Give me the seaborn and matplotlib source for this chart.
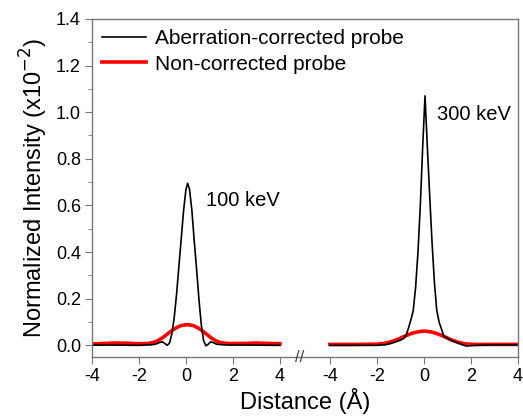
import numpy as np
import pandas as pd
import matplotlib
matplotlib.use('Agg')
import matplotlib.pyplot as plt
import seaborn as sns

# values (distance in Angstrom, intensity x1e-2)
dist_ac_100 = [-4, -3, -2, -1.6, -1.5, -1.3, -1.1, -1.0, -0.9, -0.8, -0.7, -0.6, -0.5, -0.4, -0.3,
               -0.2, -0.1, 0.0, 0.07, 0.15, 0.25, 0.35, 0.45, 0.55, 0.65, 0.75, 0.85, 0.95,
               1.05, 1.15, 1.3, 1.6, 2, 3, 4]
int_ac_100 = [0.001, 0.001, 0.0, 0.002, 0.002, 0.005, 0.013, 0.015, 0.008, 0.0, 0.01, 0.05, 0.12,
              0.22, 0.34, 0.46, 0.58, 0.67, 0.695, 0.67, 0.58, 0.45, 0.33, 0.2, 0.09, 0.02,
              -0.002, 0.005, 0.015, 0.012, 0.005, 0.002, 0.001, 0.001, 0.0]

dist_nc_100 = [-4, -3.5, -3, -2.5, -2, -1.6, -1.4, -1.2, -1.0, -0.8, -0.6, -0.4, -0.2, 0.05, 0.3,
               0.5, 0.7, 0.9, 1.1, 1.3, 1.5, 1.8, 2.5, 3, 3.5, 4]
int_nc_100 = [0.006, 0.008, 0.01, 0.009, 0.007, 0.008, 0.012, 0.02, 0.032, 0.048, 0.063, 0.076,
              0.085, 0.089, 0.085, 0.076, 0.062, 0.046, 0.03, 0.018, 0.011, 0.008, 0.008, 0.01,
              0.008, 0.007]

dist_ac_300 = [-4, -3, -2, -1.6, -1.4, -1.2, -1.0, -0.85, -0.75, -0.65, -0.55, -0.45, -0.35, -0.25,
               -0.15, -0.05, 0.05, 0.15, 0.25, 0.35, 0.45, 0.55, 0.65, 0.75, 0.85, 1.0, 1.2,
               1.4, 1.6, 1.8, 2.2, 3, 4]
int_ac_300 = [0.0, 0.0, 0.0, 0.003, 0.008, 0.015, 0.022, 0.03, 0.045, 0.075, 0.11, 0.15, 0.25,
              0.40, 0.60, 0.85, 1.07, 0.85, 0.64, 0.44, 0.27, 0.15, 0.1, 0.07, 0.04, 0.03, 0.02,
              0.012, 0.004, -0.003, 0.0, 0.002, 0.002]

dist_nc_300 = [-4, -3, -2, -1.7, -1.4, -1.1, -0.8, -0.5, -0.2, 0.05, 0.3, 0.6, 0.9, 1.2, 1.5,
               1.8, 2.2, 3, 4]
int_nc_300 = [0.004, 0.004, 0.005, 0.008, 0.015, 0.026, 0.04, 0.052, 0.059, 0.061, 0.058, 0.049,
              0.036, 0.022, 0.012, 0.006, 0.004, 0.004, 0.004]

tick_vals = [-4, -2, 0, 2, 4]
shift = 10.13  # right panel offset on the shared axis

plt.rcParams['font.family'] = ['Liberation Sans', 'DejaVu Sans']
fig, ax = plt.subplots(figsize=(5.23, 4.2), dpi=100)
fig.subplots_adjust(left=0.176, right=0.99, top=0.955, bottom=0.15)

curves = [
    (dist_nc_100, int_nc_100, 0, 'red', 2.6, 'Non-corrected probe'),
    (dist_nc_300, int_nc_300, shift, 'red', 2.6, None),
    (dist_ac_100, int_ac_100, 0, 'black', 1.2, 'Aberration-corrected probe'),
    (dist_ac_300, int_ac_300, shift, 'black', 1.2, None),
]
for d, v, off, col, lw, lab in curves:
    df = pd.DataFrame({'x': np.array(d) + off, 'y': v})
    sns.lineplot(data=df, x='x', y='y', color=col, lw=lw, label=lab, ax=ax,
                 estimator=None, sort=False)

ax.set_xlim(-4, 4 + shift)
ax.set_ylim(-0.05, 1.4)
ax.set_xticks(tick_vals + [t + shift for t in tick_vals])
ax.set_xticklabels([str(t) for t in tick_vals] * 2)
ax.set_yticks(np.arange(0, 1.41, 0.2))
ax.set_yticks(np.arange(0.1, 1.4, 0.2), minor=True)
ax.yaxis.set_major_formatter(matplotlib.ticker.FormatStrFormatter('%.1f'))
ax.tick_params(axis='both', labelsize=13, direction='out', length=5, color='#777', pad=3)
ax.tick_params(axis='y', which='minor', length=3, color='#777')
for s in ax.spines.values():
    s.set_color('#777')
    s.set_linewidth(1.0)

ax.set_xlabel('Distance (Å)', fontsize=17, labelpad=2)
ax.set_ylabel('Normalized Intensity (x10$^{-2}$)', fontsize=17, labelpad=4)

# break mark on the bottom axis
ax.text(0.488, 0.0, '//', transform=ax.transAxes, ha='center', va='center',
        fontsize=12, color='#444')

ax.text(0.85, 0.62, '100 keV', fontsize=14.5, ha='left', va='center')
ax.text(0.55 + shift, 0.99, '300 keV', fontsize=14.5, ha='left', va='center')

h, l = ax.get_legend_handles_labels()
order = [l.index('Aberration-corrected probe'), l.index('Non-corrected probe')]
ax.legend([h[i] for i in order], [l[i] for i in order], loc='upper left', frameon=False,
          fontsize=15, handlelength=2.1, handletextpad=0.4, borderaxespad=0.2,
          labelspacing=0.3, borderpad=0.3)

plt.savefig('out.png', dpi=100)
